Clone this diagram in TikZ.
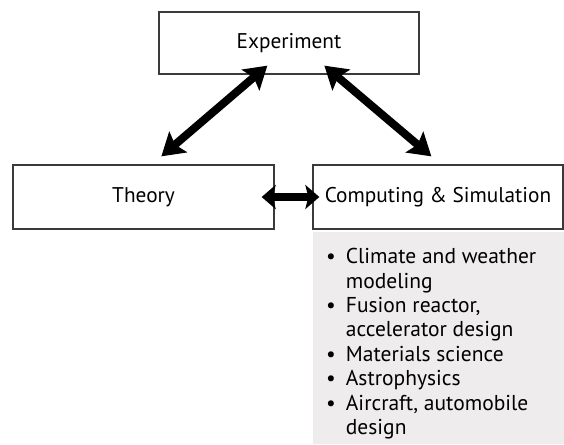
\documentclass[tikz,border=0pt]{standalone}
\usepackage{fontspec}
\setmainfont{PT Sans}
\usetikzlibrary{arrows.meta,calc}
\definecolor{listgrey}{HTML}{EEECED}
\definecolor{boxline}{HTML}{3A3A3A}
\tikzset{
  box/.style={draw=boxline,line width=1.3pt,fill=white,inner sep=0pt,
    font=\fontsize{21.3}{24}\selectfont},
  bigarrow/.style={line width=8pt,
    {Stealth[length=22pt,width=27pt,inset=4pt]}-{Stealth[length=22pt,width=27pt,inset=4pt]}},
  smallarrow/.style={line width=8pt,
    {Stealth[length=14pt,width=24pt,inset=3pt]}-{Stealth[length=14pt,width=24pt,inset=3pt]}}
}
\begin{document}
\begin{tikzpicture}[x=1pt,y=-1pt]
\useasboundingbox (0,0) rectangle (564,444);
\node[box,minimum width=260pt,minimum height=62pt] (exp) at (289,43) {Experiment};
\node[box,minimum width=261pt,minimum height=64pt] (theory) at (143.5,197) {Theory};
\node[box,minimum width=250pt,minimum height=64pt] (comp) at (438,197) {Computing \& Simulation};
\node[fill=listgrey,inner sep=0pt,minimum width=251pt,minimum height=212pt,anchor=north west] (listbg) at (313,232) {};
\node[anchor=north west,inner sep=0pt,font=\fontsize{21.5}{24.4}\selectfont] (list) at (326,246.5)
{\begin{tabular}{@{}l@{\hspace{10pt}}l@{}}
\textbullet & Climate and weather\\
 & modeling\\
\textbullet & Fusion reactor,\\
 & accelerator design\\
\textbullet & Materials science\\
\textbullet & Astrophysics\\
\textbullet & Aircraft, automobile\\
 & design
\end{tabular}};
\draw[bigarrow] ($(exp.south west)+(109,-9)$) -- ($(theory.north west)+(149,-8)$);
\draw[bigarrow] ($(exp.south west)+(166,-9)$) -- ($(comp.north west)+(119,-8)$);
\draw[smallarrow] ($(theory.east)+(-13,0)$) -- ($(comp.west)+(7,0)$);
\end{tikzpicture}
\end{document}
